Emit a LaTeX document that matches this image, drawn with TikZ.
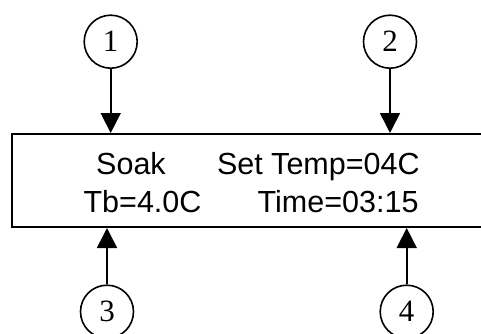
\documentclass[tikz,border=0pt]{standalone}
\usepackage{fontspec}
\setmainfont{Liberation Serif}
\setsansfont{Liberation Sans}
\usepackage{xcolor}
\usepackage{tikz}
\usetikzlibrary{arrows.meta,positioning,calc}
\definecolor{Ink}{HTML}{000000}
\tikzset{
  screen/.style={draw=Ink,line width=2pt,minimum width=490pt,minimum height=93pt,inner sep=0pt},
  marker/.style={circle,draw=Ink,line width=1.6pt,minimum size=53pt,inner sep=0pt,font=\fontsize{31}{31}\selectfont},
  arrow/.style={-{Triangle[length=20pt,width=20pt]},line width=1.6pt,draw=Ink},
  readout/.style={anchor=base west,inner sep=0pt,font=\sffamily\fontsize{30.5}{30.5}\selectfont}
}

\begin{document}
\begin{tikzpicture}[x=1pt,y=-1pt]
  \useasboundingbox (0,0) rectangle (481,334);
  \node[screen] (lcd) at (257,180.5) {};
  \node[readout] (soak) at (96,174.7) {Soak};
  \node[readout] (settemp) at (216.8,174.7) {Set Temp=04C};
  \node[readout] (tb) at (83.4,212.2) {Tb=4.0C};
  \node[readout] (time) at (257.5,212.2) {Time=03:15};
  \node[marker] (c1) at (110.7,41.7) {1};
  \node[marker] (c2) at (390,41.7) {2};
  \node[marker] (c3) at (107,311.7) {3};
  \node[marker] (c4) at (406.7,311.7) {4};
  \draw[arrow] (c1) -- (c1 |- lcd.north);
  \draw[arrow] (c2) -- (c2 |- lcd.north);
  \draw[arrow] (c3) -- (c3 |- lcd.south);
  \draw[arrow] (c4) -- (c4 |- lcd.south);
\end{tikzpicture}
\end{document}
